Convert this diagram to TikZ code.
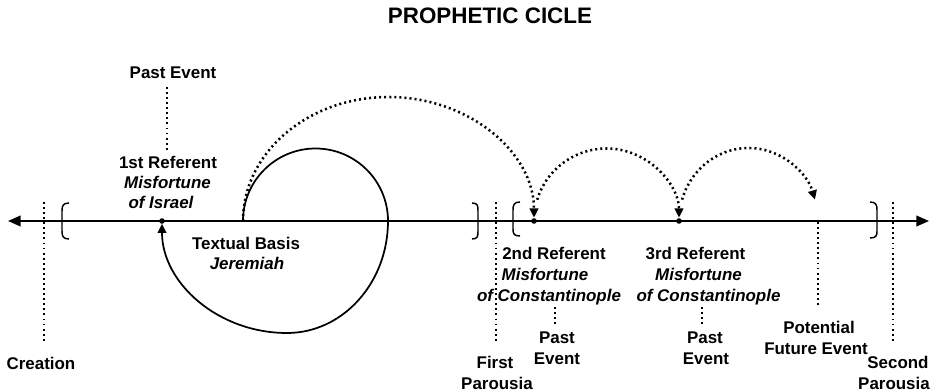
\documentclass[tikz,border=0pt]{standalone}
\usepackage{fontspec}
\setmainfont{Liberation Sans}
\usetikzlibrary{arrows.meta,calc}
\begin{document}
\begin{tikzpicture}[x=0.75pt,y=-0.75pt,
  lbl/.style={font=\fontsize{12.7}{15}\selectfont\bfseries, inner sep=0pt, anchor=base},
  ilbl/.style={lbl, font=\fontsize{12.7}{15}\selectfont\bfseries\itshape},
  dotline/.style={line width=1.7pt, dash pattern=on 1.4pt off 2.4pt},
  dotarc/.style={line width=1.9pt, dash pattern=on 1.5pt off 2.3pt, -{Triangle[length=7pt,width=6.5pt]}},
  loopline/.style={line width=1.3pt, -{Triangle[length=7pt,width=6.5pt]}},
  axisline/.style={line width=1.3pt, {Triangle[length=9.5pt,width=8pt]}-{Triangle[length=9.5pt,width=8pt]}},
  dot/.style={circle, fill, inner sep=0pt, minimum size=4.2pt},
  brk/.style={line width=1.1pt}]
\useasboundingbox (0,0) rectangle (936,392);

% title
\node[lbl, font=\fontsize{16.8}{20}\selectfont\bfseries] (title) at (490,24) {PROPHETIC CICLE};

% axis
\coordinate (axL) at (8,221);
\coordinate (axR) at (929,221);
\draw[axisline] (axL) -- (axR);

% brackets
\draw[brk] (69,203) .. controls (63,203) and (62,206) .. (62,211) -- (62,231) .. controls (62,236) and (63,239) .. (69,239);
\draw[brk] (472,203) .. controls (478,203) and (478,206) .. (478,211) -- (478,231) .. controls (478,236) and (478,239) .. (472,239);
\draw[brk] (520,202) .. controls (514,202) and (513,205) .. (513,210) -- (513,229) .. controls (513,234) and (514,236) .. (520,236);
\draw[brk] (870,202) .. controls (876,202) and (877,205) .. (877,210) -- (877,231) .. controls (877,236) and (876,238) .. (870,238);

% referent dots
\node[dot] (r1) at (162,221) {};
\node[dot] (r2) at (534,221) {};
\node[dot] (r3) at (679,221) {};
\coordinate (tb) at (243,221);
\coordinate (c23) at ($(r2)!0.5!(r3)$);
\coordinate (c34) at (748.5,221);

% vertical dotted lines
\coordinate (crT) at (44,202);  \coordinate (crB) at (44,342);
\coordinate (fpT) at (496,202); \coordinate (fpB) at (496,342);
\coordinate (spT) at (893,202); \coordinate (spB) at (893,342);
\coordinate (ptT) at (818,222); \coordinate (ptB) at (818,308);
\coordinate (p1T) at (167,87);  \coordinate (p1B) at (167,150);
\coordinate (p2T) at (555,307); \coordinate (p2B) at (555,325);
\coordinate (p3T) at (702,307); \coordinate (p3B) at (702,325);
\foreach \a in {cr,fp,sp,pt,p1,p2,p3} \draw[dotline] (\a T) -- (\a B);

% solid loop (textual basis)
\draw[loopline, shorten >=2pt] (tb) arc[start angle=180, end angle=360, radius=72.5]
  arc[start angle=0, end angle=90, x radius=101, y radius=112]
  arc[start angle=90, end angle=180, x radius=125, y radius=112];

% dotted arcs
\draw[dotarc, shorten >=2.5pt] (tb) arc[start angle=180, end angle=360, x radius=145.5, y radius=124];
\draw[dotarc, shorten >=2.5pt] ([shift={(197:72.5)}]c23) arc[start angle=197, end angle=360, radius=72.5];
\draw[dotarc] ([shift={({69.5*cos(197)},{73*sin(197)})}]c34) arc[start angle=197, end angle=343, x radius=69.5, y radius=73];

% labels
\node[lbl] (pastA) at (173,79) {Past Event};
\node[lbl] (ref1a) at (168,169) {1st Referent};
\node[ilbl] (ref1b) at (167.5,189) {Misfortune};
\node[ilbl] (ref1c) at (161,209) {of Israel};
\node[lbl] (tb1) at (246,250) {Textual Basis};
\node[ilbl] (tb2) at (247,270) {Jeremiah};
\node[lbl] (creation) at (41,369) {Creation};
\node[lbl] (first1) at (495,368) {First};
\node[lbl] (first2) at (497,389) {Parousia};
\node[lbl] (ref2a) at (554,260) {2nd Referent};
\node[ilbl] (ref2b) at (545,281) {Misfortune};
\node[ilbl] (ref2c) at (549,301) {of Constantinople};
\node[lbl] (past2a) at (557,343) {Past};
\node[lbl] (past2b) at (557,364) {Event};
\node[lbl] (ref3a) at (695.5,260) {3rd Referent};
\node[ilbl] (ref3b) at (698.5,281) {Misfortune};
\node[ilbl] (ref3c) at (708.5,301) {of Constantinople};
\node[lbl] (past3a) at (705,343) {Past};
\node[lbl] (past3b) at (706,364) {Event};
\node[lbl] (pot1) at (819,334) {Potential};
\node[lbl] (pot2) at (816,354) {Future Event};
\node[lbl] (second1) at (898,368) {Second};
\node[lbl] (second2) at (894,389) {Parousia};
\end{tikzpicture}
\end{document}
